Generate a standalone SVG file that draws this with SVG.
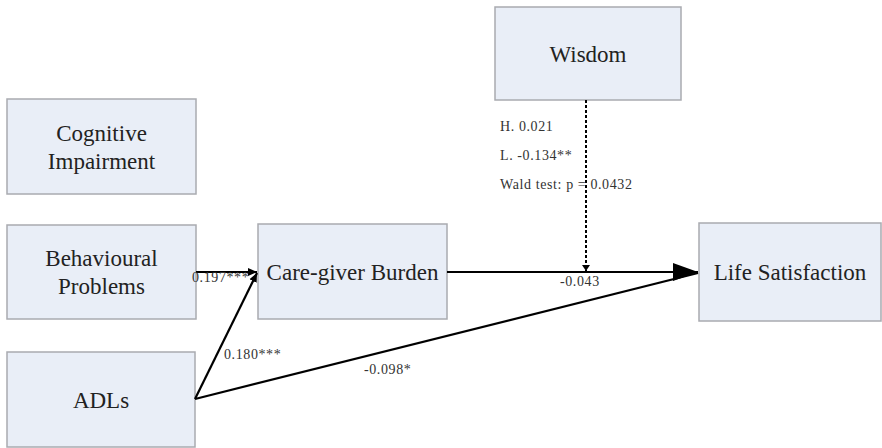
<svg xmlns="http://www.w3.org/2000/svg" width="882" height="448" viewBox="0 0 882 448">
<style>
.box{fill:#e9eef7;stroke:#a9abb0;stroke-width:1.5}
.t{font-family:"Liberation Serif","Times New Roman",serif;font-size:23px;fill:#222;text-anchor:middle}
.s{font-family:"Liberation Serif","Times New Roman",serif;font-size:14px;letter-spacing:0.6px;fill:#333}
.ln{stroke:#000;stroke-width:2.2;fill:none}
</style>
<defs>
<marker id="ah" markerWidth="10" markerHeight="10" refX="9" refY="5" orient="auto" markerUnits="userSpaceOnUse"><path d="M0,1 L9,5 L0,9 Z" fill="#000"/></marker>
<marker id="big" markerWidth="26" markerHeight="22" refX="25" refY="11" orient="auto" markerUnits="userSpaceOnUse"><path d="M0,2 L25,11 L0,20 Z" fill="#000"/></marker>
<marker id="sm" markerWidth="8" markerHeight="8" refX="4" refY="7" orient="0" markerUnits="userSpaceOnUse"><path d="M0,1 L4,7 L8,1 Z" fill="#000"/></marker>
</defs>
<g id="cognitive">
<rect class="box" x="7" y="99" width="189" height="95"/>
<text class="t" x="101.5" y="141">Cognitive</text>
<text class="t" x="101.5" y="169">Impairment</text>
</g>
<g id="behavioural">
<rect class="box" x="7" y="225" width="189" height="94"/>
<text class="t" x="101.5" y="266">Behavioural</text>
<text class="t" x="101.5" y="294">Problems</text>
</g>
<g id="adls">
<rect class="box" x="7" y="352" width="188" height="95"/>
<text class="t" x="101" y="408">ADLs</text>
</g>
<g id="burden">
<rect class="box" x="258" y="224" width="189" height="95"/>
<text class="t" x="352.5" y="280">Care-giver Burden</text>
</g>
<g id="wisdom">
<rect class="box" x="495" y="7" width="186" height="93"/>
<text class="t" x="588" y="62">Wisdom</text>
</g>
<g id="life">
<rect class="box" x="699" y="223" width="182" height="98"/>
<text class="t" x="790" y="280">Life Satisfaction</text>
</g>
<g id="connectors">
<line class="ln" x1="196" y1="272" x2="257" y2="272" marker-end="url(#ah)"/>
<line class="ln" x1="195" y1="399" x2="257" y2="273" marker-end="url(#ah)"/>
<line class="ln" x1="447" y1="272" x2="698" y2="272" marker-end="url(#big)"/>
<line class="ln" x1="195" y1="399" x2="698" y2="273"/>
<line x1="586" y1="100" x2="586" y2="271" stroke="#000" stroke-width="2" stroke-dasharray="3,2" marker-end="url(#sm)"/>
<text class="s" x="192" y="282">0.197***</text>
<text class="s" x="224" y="359">0.180***</text>
<text class="s" x="364" y="374">-0.098*</text>
<text class="s" x="560" y="286">-0.043</text>
<text class="s" x="500" y="131">H. 0.021</text>
<text class="s" x="500" y="160">L. -0.134**</text>
<text class="s" x="500" y="189">Wald test: p = 0.0432</text>
</g>
</svg>
